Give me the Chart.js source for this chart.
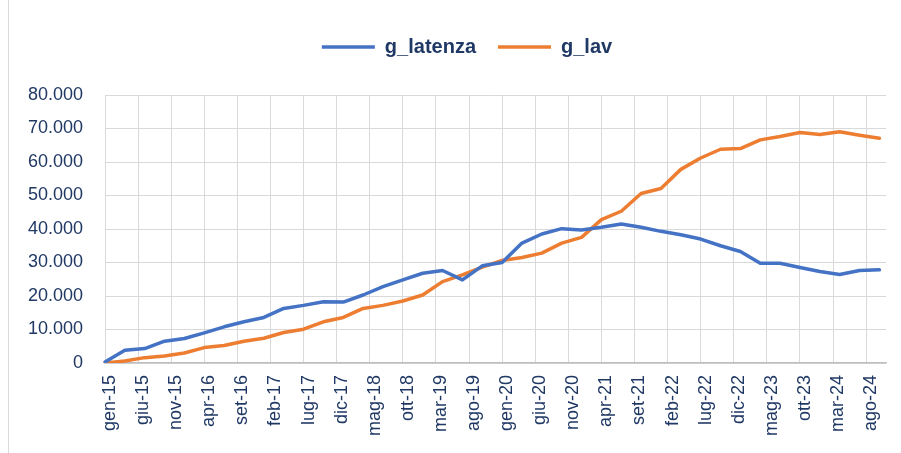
<!DOCTYPE html>
<html>
<head>
<meta charset="utf-8">
<script src="https://cdn.jsdelivr.net/npm/chart.js@4/dist/chart.umd.min.js"></script>
<style>
  html, body { margin: 0; padding: 0; background: #fff; }
  #wrap { position: relative; width: 901px; height: 453px; }
  #edge { position: absolute; left: 8px; top: 0; width: 1px; height: 453px; background: #d9d9d9; }
</style>
</head>
<body>
<div id="wrap">
  <canvas id="chart" width="901" height="453"></canvas>
  <div id="edge"></div>
</div>
<script>
// Axis months (Italian) and years
const monthNames = ['gen', 'feb', 'mar', 'apr', 'mag', 'giu', 'lug', 'ago', 'set', 'ott', 'nov', 'dic'];
const years = ['15', '16', '17', '18', '19', '20', '21', '22', '23', '24'];

// Quarterly observations
const quarters = [
  'gen-15', 'apr-15', 'lug-15', 'ott-15', 'gen-16', 'apr-16', 'lug-16', 'ott-16',
  'gen-17', 'apr-17', 'lug-17', 'ott-17', 'gen-18', 'apr-18', 'lug-18', 'ott-18',
  'gen-19', 'apr-19', 'lug-19', 'ott-19', 'gen-20', 'apr-20', 'lug-20', 'ott-20',
  'gen-21', 'apr-21', 'lug-21', 'ott-21', 'gen-22', 'apr-22', 'lug-22', 'ott-22',
  'gen-23', 'apr-23', 'lug-23', 'ott-23', 'gen-24', 'apr-24', 'lug-24', 'ott-24'
];

const gLatenza = [
  300, 3800, 4300, 6500, 7300, 9000, 10800, 12300,
  13600, 16300, 17200, 18300, 18200, 20300, 22800, 24800,
  26800, 27600, 24800, 29000, 30000, 35800, 38500, 40100,
  39700, 40500, 41500, 40500, 39300, 38300, 37000, 35000,
  33300, 29800, 29800, 28500, 27300, 26400, 27600, 27800
];

const gLav = [
  0, 600, 1600, 2100, 3000, 4600, 5200, 6500,
  7400, 9100, 10100, 12300, 13600, 16300, 17200, 18500,
  20300, 24300, 26300, 28600, 30600, 31500, 32800, 35800,
  37500, 42800, 45300, 50600, 52100, 57800, 61200, 63800,
  64000, 66600, 67600, 68800, 68200, 69000, 68000, 67100
];

// Monthly category axis gen-15 .. nov-24
const axisMonths = [];
years.forEach(y => monthNames.forEach(m => axisMonths.push(m + '-' + y)));
axisMonths.length = axisMonths.indexOf('nov-24') + 1;

const navy = '#1F3864';
const gridGrey = '#d9d9d9';

function fmtIt(v) {
  return String(v).replace(/\B(?=(\d{3})+(?!\d))/g, '.');
}

// extra space under the legend, legend nudged right
const legendTweak = {
  id: 'legendTweak',
  beforeInit(chart) {
    const lg = chart.legend;
    const fit = lg.fit;
    lg.fit = function () {
      fit.bind(lg)();
      this.height += 28;
    };
    const draw = lg.draw;
    lg.draw = function () {
      const ctx = chart.ctx;
      ctx.save();
      ctx.translate(24, 0);
      draw.bind(lg)();
      ctx.restore();
    };
  }
};

new Chart('chart', {
  type: 'line',
  data: {
    labels: axisMonths,
    datasets: [{
      label: 'g_latenza',
      data: quarters.map((q, i) => ({ x: q, y: gLatenza[i] })),
      borderColor: '#4472C4',
      backgroundColor: '#4472C4',
      borderWidth: 3.5,
      pointRadius: 0,
      tension: 0,
      borderJoinStyle: 'round',
      borderCapStyle: 'round'
    }, {
      label: 'g_lav',
      data: quarters.map((q, i) => ({ x: q, y: gLav[i] })),
      borderColor: '#ED7D31',
      backgroundColor: '#ED7D31',
      borderWidth: 3.5,
      pointRadius: 0,
      tension: 0,
      borderJoinStyle: 'round',
      borderCapStyle: 'round'
    }]
  },
  options: {
    responsive: false,
    devicePixelRatio: 1,
    animation: false,
    layout: { padding: { top: 15, right: 15, left: 0, bottom: 0 } },
    plugins: {
      legend: {
        position: 'top',
        labels: {
          usePointStyle: true,
          pointStyle: 'line',
          pointStyleWidth: 53,
          padding: 22,
          color: navy,
          font: { family: 'Liberation Sans', size: 20, weight: 'bold' }
        }
      },
      tooltip: { enabled: false }
    },
    scales: {
      x: {
        type: 'category',
        grid: { drawTicks: false, color: gridGrey, lineWidth: 1 },
        border: { color: '#bfbfbf', width: 1.5 },
        ticks: {
          autoSkip: false,
          minRotation: 90,
          maxRotation: 90,
          padding: 12,
          labelOffset: 5,
          color: navy,
          font: { family: 'Liberation Sans', size: 18 },
          callback: function (val, idx) {
            return idx % 5 === 0 ? this.getLabelForValue(val) : null;
          }
        },
        afterFit: s => { s.height = 90; }
      },
      y: {
        min: 0,
        max: 80000,
        grid: { drawTicks: false, color: gridGrey, lineWidth: 1 },
        border: { display: false },
        ticks: {
          stepSize: 10000,
          padding: 22,
          color: navy,
          font: { family: 'Liberation Sans', size: 18 },
          callback: v => fmtIt(v)
        },
        afterFit: s => { s.width = 105; }
      }
    }
  },
  plugins: [legendTweak]
});
</script>
</body>
</html>
